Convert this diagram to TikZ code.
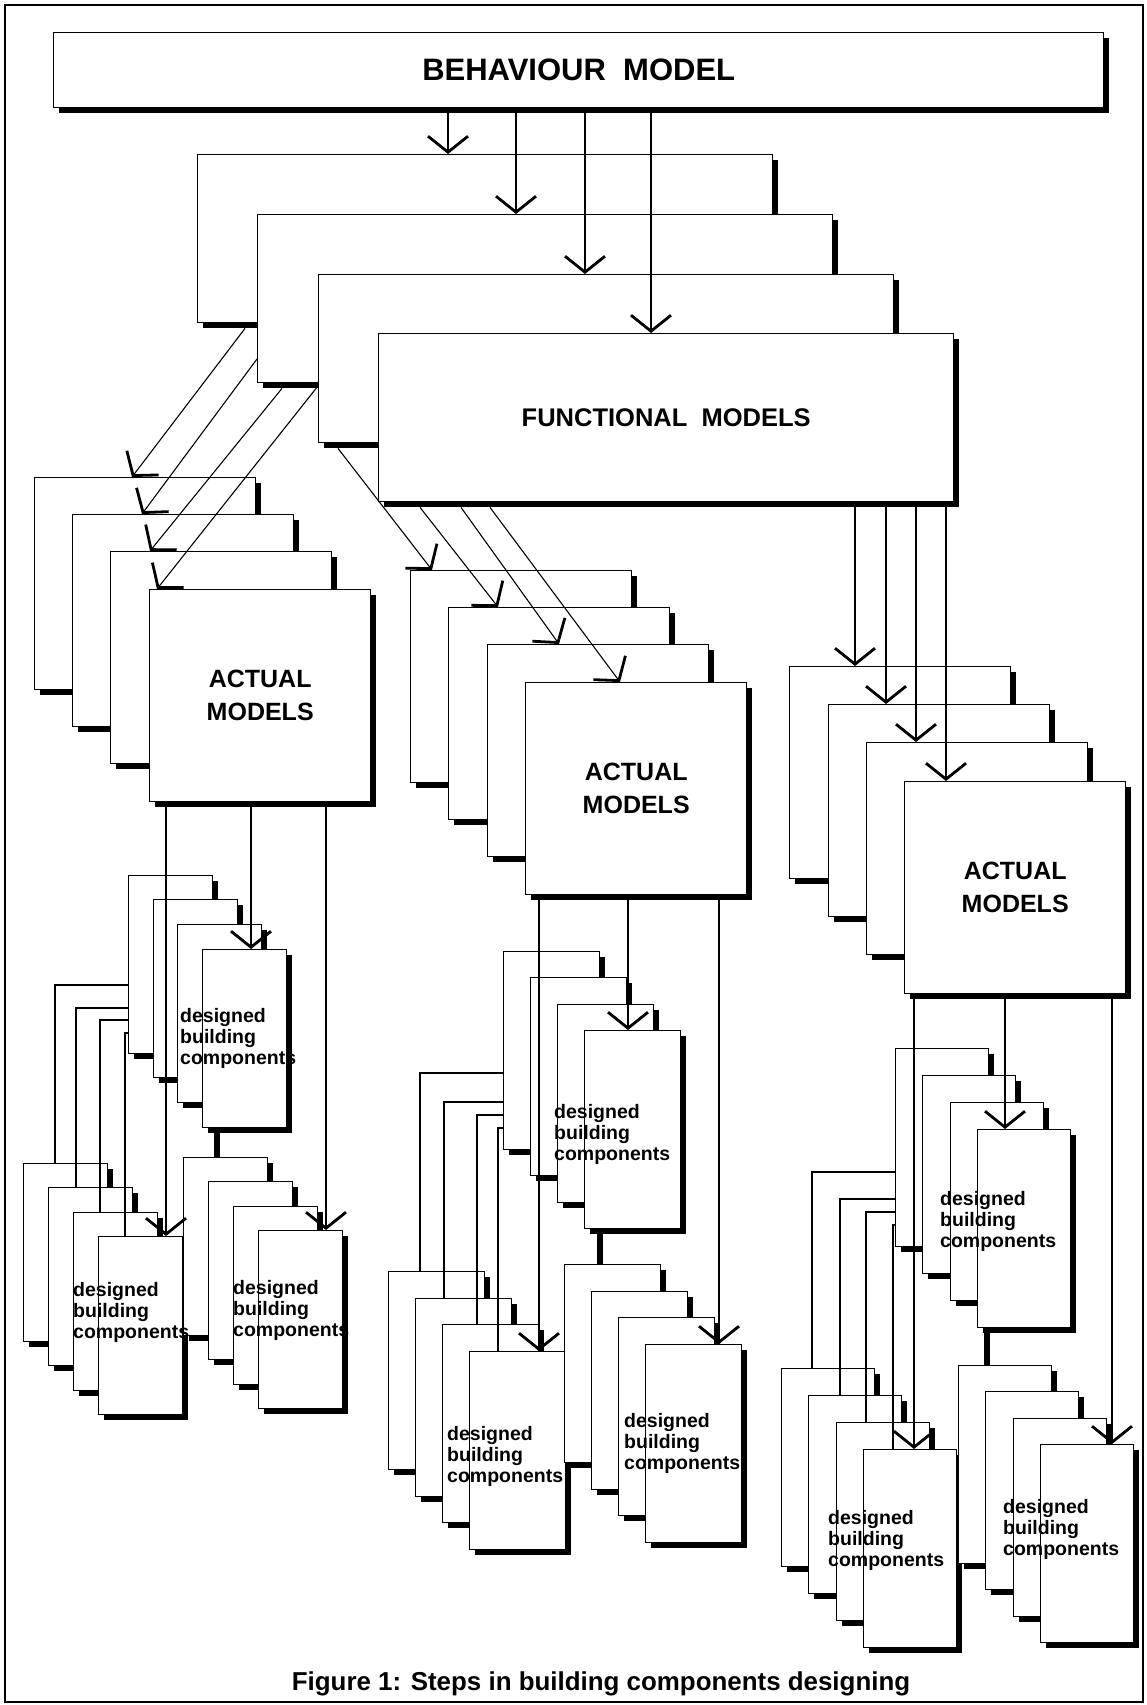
\documentclass[tikz,border=0pt]{standalone}
\usepackage{fontspec}
\setmainfont{Liberation Sans}
\usetikzlibrary{positioning,calc,arrows.meta,shadows}

\begin{document}
\begin{tikzpicture}[x=1pt, y=-1pt]
    % Define styles
    \tikzstyle{panel} = [rectangle, draw, fill=white, line width=1.4pt, inner sep=0pt, anchor=north west, drop shadow={shadow xshift=5pt, shadow yshift=-5pt, opacity=1, fill=black}]
    \tikzstyle{behbox} = [panel, minimum width=1050pt, minimum height=75pt, font=\fontsize{31}{31}\selectfont\bfseries]
    \tikzstyle{funcbox} = [panel, minimum width=575pt, minimum height=168pt, font=\fontsize{25.5}{30}\selectfont\bfseries]
    \tikzstyle{actbox} = [panel, minimum width=221pt, minimum height=212pt, align=center, font=\fontsize{25}{33}\selectfont\bfseries]
    \tikzstyle{desl} = [panel, minimum width=84pt, minimum height=178pt]
    \tikzstyle{desm} = [panel, minimum width=96pt, minimum height=198pt]
    \tikzstyle{desr} = [panel, minimum width=93pt, minimum height=198pt]
    \tikzstyle{dtext} = [anchor=west, align=left, inner sep=0pt, font=\fontsize{19.5}{21}\selectfont\bfseries]
    \tikzstyle{arrow} = [line width=1.1pt, -{Straight Barb[length=16pt, width=40pt, line width=2.8pt]}]
    \tikzstyle{link} = [line width=1.1pt]
    \tikzstyle{stem} = [line width=6pt]

    \useasboundingbox (0,0) rectangle (1147,1705);
    \draw [line width=2.5pt] (5,5) rectangle (1143,1702);

    % Behaviour and functional models
    \node [behbox] (beh) at (53,32) {BEHAVIOUR~~MODEL};
    \node [funcbox] (f1) at (197,154) {};
    \node [funcbox] (f2) at (257,214) {};
    \node [funcbox] (f3) at (318,274) {};
    \node [funcbox] (f4) at (378,333) {FUNCTIONAL~~MODELS};

    % Actual models
    \node [actbox] (al1) at (34,477) {};
    \node [actbox] (al2) at (72,514) {};
    \node [actbox] (al3) at (110,551) {};
    \node [actbox] (al4) at (149,589) {ACTUAL\\MODELS};
    \node [actbox] (am1) at (410,570) {};
    \node [actbox] (am2) at (448,607) {};
    \node [actbox] (am3) at (487,644) {};
    \node [actbox] (am4) at (525,682) {ACTUAL\\MODELS};
    \node [actbox] (ar1) at (789,666) {};
    \node [actbox] (ar2) at (828,704) {};
    \node [actbox] (ar3) at (866,742) {};
    \node [actbox] (ar4) at (904,781) {ACTUAL\\MODELS};

    % Designed building components, left group
    \node [desl] (lu1) at (128,875) {};
    \node [desl] (lu2) at (153,899) {};
    \node [desl] (lu3) at (177,924) {};
    \node [desl] (lu4) at (202,949) {};
    \node [desl] (ll1) at (23,1163) {};
    \node [desl] (ll2) at (48,1187) {};
    \node [desl] (ll3) at (73,1212) {};
    \node [desl] (ll4) at (98,1236) {};
    \node [desl] (lr1) at (183,1157) {};
    \node [desl] (lr2) at (208,1181) {};
    \node [desl] (lr3) at (233,1206) {};
    \node [desl] (lr4) at (258,1230) {};

    % Designed building components, middle group
    \node [desm] (mu1) at (503,951) {};
    \node [desm] (mu2) at (530,977) {};
    \node [desm] (mu3) at (557,1004) {};
    \node [desm] (mu4) at (584,1030) {};
    \node [desm] (ml1) at (388,1271) {};
    \node [desm] (ml2) at (415,1298) {};
    \node [desm] (ml3) at (442,1324) {};
    \node [desm] (ml4) at (469,1351) {};
    \node [desm] (mr1) at (564,1264) {};
    \node [desm] (mr2) at (591,1291) {};
    \node [desm] (mr3) at (618,1317) {};
    \node [desm] (mr4) at (645,1344) {};

    % Designed building components, right group
    \node [desr] (ru1) at (895,1048) {};
    \node [desr] (ru2) at (922,1075) {};
    \node [desr] (ru3) at (950,1102) {};
    \node [desr] (ru4) at (977,1129) {};
    \node [desr] (rl1) at (781,1368) {};
    \node [desr] (rl2) at (808,1395) {};
    \node [desr] (rl3) at (836,1422) {};
    \node [desr] (rl4) at (863,1449) {};
    \node [desr] (rr1) at (958,1365) {};
    \node [desr] (rr2) at (985,1391) {};
    \node [desr] (rr3) at (1013,1418) {};
    \node [desr] (rr4) at (1040,1444) {};

    % Labels of the designed components
    \node [dtext] (lutext) at ($(lu4.west)+(-22,0)$) {designed\\building\\components};
    \node [dtext] (lltext) at ($(ll4.west)+(-25,-13)$) {designed\\building\\components};
    \node [dtext] (lrtext) at ($(lr4.west)+(-25,-9)$) {designed\\building\\components};
    \node [dtext] (mutext) at ($(mu4.west)+(-30,5)$) {designed\\building\\components};
    \node [dtext] (mltext) at ($(ml4.west)+(-22,6)$) {designed\\building\\components};
    \node [dtext] (mrtext) at ($(mr4.west)+(-21,0)$) {designed\\building\\components};
    \node [dtext] (rutext) at ($(ru4.west)+(-37,-7)$) {designed\\building\\components};
    \node [dtext] (rltext) at ($(rl4.west)+(-35,-8)$) {designed\\building\\components};
    \node [dtext] (rrtext) at ($(rr4.west)+(-37,-14)$) {designed\\building\\components};

    % Behaviour to functional arrows
    \draw [arrow] ($(beh.south west)+(395,5)$) -- ($(f1.north west)+(251,0)$);
    \draw [arrow] ($(beh.south west)+(463,5)$) -- ($(f2.north west)+(259,0)$);
    \draw [arrow] ($(beh.south west)+(532,5)$) -- ($(f3.north west)+(267,0)$);
    \draw [arrow] ($(beh.south west)+(598,5)$) -- ($(f4.north west)+(273,0)$);

    % Functional to actual arrows
    \draw [arrow] ($(f1.south west)+(48,5)$) -- ($(al1.north west)+(98,0)$);
    \draw [arrow] ($(f2.north west)+(0,145)$) -- ($(al2.north west)+(70,0)$);
    \draw [arrow] ($(f2.south west)+(25,5)$) -- ($(al3.north west)+(40,0)$);
    \draw [arrow] ($(f3.north west)+(0,112)$) -- ($(al4.north west)+(8,0)$);
    \draw [arrow] ($(f3.south west)+(20,5)$) -- ($(am1.north west)+(22,0)$);
    \draw [arrow] ($(f4.south west)+(42,5)$) -- ($(am2.north west)+(50,0)$);
    \draw [arrow] ($(f4.south west)+(83,5)$) -- ($(am3.north west)+(72,0)$);
    \draw [arrow] ($(f4.south west)+(112,5)$) -- ($(am4.north west)+(95,0)$);
    \draw [arrow] ($(f4.south west)+(477,5)$) -- ($(ar1.north west)+(66,0)$);
    \draw [arrow] ($(f4.south west)+(508,5)$) -- ($(ar2.north west)+(58,0)$);
    \draw [arrow] ($(f4.south west)+(538,5)$) -- ($(ar3.north west)+(50,0)$);
    \draw [arrow] ($(f4.south west)+(568,5)$) -- ($(ar4.north west)+(42,0)$);

    % Actual to designed arrows
    \draw [arrow] ($(al4.south west)+(17,5)$) -- ($(ll4.north west)+(68,0)$);
    \draw [arrow] ($(al4.south west)+(102,5)$) -- ($(lu4.north west)+(49,0)$);
    \draw [arrow] ($(al4.south west)+(177,5)$) -- ($(lr4.north west)+(68,0)$);
    \draw [arrow] ($(am4.south west)+(14,5)$) -- ($(ml4.north west)+(70,0)$);
    \draw [arrow] ($(am4.south west)+(103,5)$) -- ($(mu4.north west)+(44,0)$);
    \draw [arrow] ($(am4.south west)+(194,5)$) -- ($(mr4.north west)+(74,0)$);
    \draw [arrow] ($(ar4.south west)+(10,5)$) -- ($(rl4.north west)+(51,0)$);
    \draw [arrow] ($(ar4.south west)+(101,5)$) -- ($(ru4.north west)+(28,0)$);
    \draw [arrow] ($(ar4.south west)+(208,5)$) -- ($(rr4.north west)+(72,0)$);

    % Links between the designed stacks
    \draw [stem] ($(lu4.south west)+(15,5)$) -- ($(lr1.north west)+(34,0)$);
    \draw [stem] ($(mu4.south west)+(16,5)$) -- ($(mr1.north west)+(36,0)$);
    \draw [stem] ($(ru4.south west)+(10,5)$) -- ($(rr1.north west)+(29,0)$);
    \draw [link] ($(lu1.north west)+(0,110)$) -| ($(ll1.north west)+(32,0)$);
    \draw [link] ($(lu1.north west)+(0,133)$) -| ($(ll2.north west)+(28,0)$);
    \draw [link] ($(lu1.north west)+(0,145)$) -| ($(ll3.north west)+(27,0)$);
    \draw [link] ($(lu1.north west)+(0,158)$) -| ($(ll4.north west)+(27,0)$);
    \draw [link] ($(mu1.north west)+(0,122)$) -| ($(ml1.north west)+(32,0)$);
    \draw [link] ($(mu1.north west)+(0,151)$) -| ($(ml2.north west)+(29,0)$);
    \draw [link] ($(mu1.north west)+(0,164)$) -| ($(ml3.north west)+(35,0)$);
    \draw [link] ($(mu1.north west)+(0,177)$) -| ($(ml4.north west)+(29,0)$);
    \draw [link] ($(ru1.north west)+(0,124)$) -| ($(rl1.north west)+(31,0)$);
    \draw [link] ($(ru1.north west)+(0,151)$) -| ($(rl2.north west)+(32,0)$);
    \draw [link] ($(ru1.north west)+(0,164)$) -| ($(rl3.north west)+(30,0)$);
    \draw [link] ($(ru1.north west)+(0,177)$) -| ($(rl4.north west)+(30,0)$);

    % Caption
    \node [anchor=base, font=\fontsize{25.9}{30}\selectfont\bfseries] (caption) at (601,1690) {Figure 1: Steps in building components designing};
\end{tikzpicture}
\end{document}
